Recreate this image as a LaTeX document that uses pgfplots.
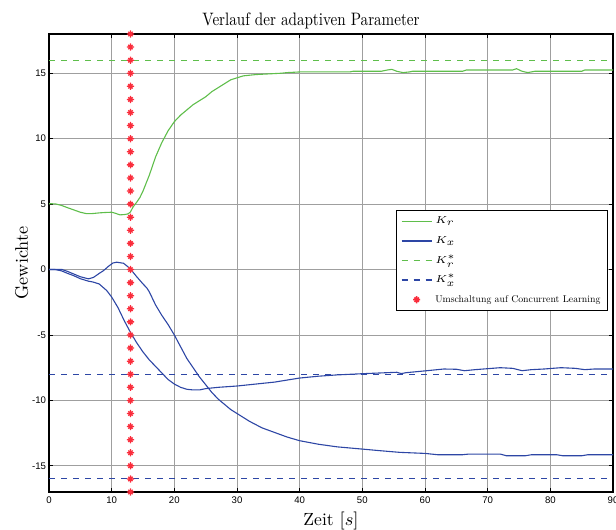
\documentclass[border=0pt]{standalone}
\usepackage{pgfplots}
\pgfplotsset{compat=1.18}
\usepackage{graphicx}
\usepackage{fontspec}
\setmainfont{lmroman10-regular.otf}[ItalicFont=lmroman10-italic.otf, BoldFont=lmroman10-bold.otf]
\newfontfamily\tickfont{Liberation Sans}
\definecolor{kgreen}{RGB}{95,190,75}
\definecolor{kblue}{RGB}{45,70,165}
\definecolor{kred}{RGB}{250,45,60}
\pgfdeclareplotmark{mstar}{%
  \pgfpathmoveto{\pgfqpoint{0pt}{\pgfplotmarksize}}\pgfpathlineto{\pgfqpoint{0pt}{-\pgfplotmarksize}}%
  \pgfpathmoveto{\pgfqpoint{\pgfplotmarksize}{0pt}}\pgfpathlineto{\pgfqpoint{-\pgfplotmarksize}{0pt}}%
  \pgfpathmoveto{\pgfqpoint{.6\pgfplotmarksize}{.6\pgfplotmarksize}}\pgfpathlineto{\pgfqpoint{-.6\pgfplotmarksize}{-.6\pgfplotmarksize}}%
  \pgfpathmoveto{\pgfqpoint{.6\pgfplotmarksize}{-.6\pgfplotmarksize}}\pgfpathlineto{\pgfqpoint{-.6\pgfplotmarksize}{.6\pgfplotmarksize}}%
  \pgfusepathqstroke}
\pgfplotsset{
  lineleg/.style={legend image code/.code={\draw[##1] (0cm,0cm) -- (0.53cm,0cm);}},
  markleg/.style={legend image code/.code={\draw[##1] plot coordinates {(0.265cm,0cm)};}},
}
\begin{document}
\begin{tikzpicture}
\begin{axis}[
  name=ax,
  scale only axis, width=282pt, height=229pt,
  xmin=0, xmax=90, ymin=-17, ymax=18,
  xtick={0,10,...,90}, ytick={-15,-10,-5,0,5,10,15},
  grid=major, major grid style={gray!75, line width=0.4pt},
  tick align=inside, tick style={black, line width=0.4pt}, major tick length=2pt,
  axis line style={black, line width=0.7pt},
  /pgf/number format/assume math mode=true,
  tick label style={font=\tickfont\fontsize{4.8}{5}\selectfont},
  xticklabel style={yshift=1pt}, yticklabel style={xshift=2pt},
  title={\scalebox{0.84}[1]{Verlauf der adaptiven Parameter}},
  title style={font=\fontsize{9}{10}\selectfont, at={(0.5,1)}, anchor=base, yshift=-2pt, xshift=-10pt},
  xlabel={Zeit $[s]$}, xlabel style={font=\fontsize{8.8}{10}\selectfont, yshift=3pt},
  ylabel={Gewichte}, ylabel style={font=\fontsize{9.1}{10}\selectfont, yshift=-5pt},
  legend style={at={(0.991,0.616)}, anchor=north east, draw=black, line width=0.6pt,
    font=\fontsize{4.9}{5.5}\selectfont, row sep=2pt, inner xsep=2pt, inner ysep=1.5pt,
    nodes={inner sep=1.4pt, text height=3.8pt, text depth=1.2pt}},
  legend cell align=left,
  legend image post style={line width=0.75pt},
  lineleg,
]
\addplot[kgreen, line width=0.55pt] coordinates {
(0,5.03) (1,5.02) (2,4.9) (3,4.72) (4,4.55) (5,4.38) (6,4.27) (7,4.28) (8,4.33) (9,4.36) (10,4.38) (10.6,4.3) (11.3,4.18) (12,4.2) (12.6,4.25) (13,4.4) (13.4,4.77) (14,5.15) (14.5,5.5) (15,6.0) (16,7.2) (17,8.6) (18,9.7) (19,10.6) (20,11.3) (21,11.8) (22,12.2) (23,12.6) (24,12.9) (25,13.2) (26,13.6) (27,13.9) (28,14.2) (29,14.5) (30,14.65) (31,14.8) (32,14.85) (33,14.9) (35,14.95) (37,15.0) (38,15.05) (40,15.1) (44,15.1) (48,15.1) (48.5,15.15) (53,15.15) (54,15.25) (54.7,15.3) (55.5,15.15) (56.5,15.05) (57.5,15.1) (58,15.15) (66,15.15) (66.6,15.25) (74,15.25) (74.6,15.35) (75.5,15.15) (76.4,15.05) (77.5,15.15) (85,15.15) (85.5,15.25) (90,15.25)
};
\addlegendentry{$K_r$}
\addplot[kblue, line width=0.55pt] coordinates {
(0,0) (1,0) (2.1,0) (3,-0.15) (3.9,-0.33) (5,-0.55) (6.3,-0.71) (7.1,-0.6) (8,-0.3) (8.7,-0.08) (9.5,0.25) (10.2,0.5) (10.8,0.56) (11.9,0.48) (12.5,0.25) (13.2,-0.08) (14,-0.55) (15,-1.1) (15.6,-1.4) (16,-1.7) (17,-2.7) (18,-3.5) (19,-4.2) (20,-5.0) (21,-5.9) (22,-6.8) (23,-7.5) (24,-8.2) (25,-8.8) (26,-9.4) (27,-9.9) (28,-10.3) (29,-10.7) (30,-11.0) (32,-11.6) (34,-12.1) (36,-12.45) (38,-12.8) (40,-13.08) (43,-13.35) (46,-13.55) (50,-13.72) (53,-13.85) (56,-13.97) (60,-14.05) (62,-14.15) (66,-14.15) (67,-14.1) (72,-14.1) (73,-14.23) (76,-14.23) (77,-14.15) (81,-14.15) (82,-14.23) (85,-14.23) (86,-14.15) (90,-14.15)
};
\addlegendentry{$K_x$}
\addplot[kgreen, dashed, line width=0.55pt] coordinates {(0,16) (90,16)};
\addlegendentry{$K_r^*$}
\addplot[kblue, dashed, line width=0.55pt] coordinates {(0,-8) (90,-8)};
\addlegendentry{$K_x^*$}
\addplot[only marks, mark=mstar, mark size=1.8pt, kred, line width=0.65pt, markleg] coordinates {
(13,-17) (13,-16) (13,-15) (13,-14) (13,-13) (13,-12) (13,-11) (13,-10) (13,-9) (13,-8) (13,-7) (13,-6) (13,-5) (13,-4) (13,-3) (13,-2) (13,-1) (13,0) (13,1) (13,2) (13,3) (13,4) (13,5) (13,6) (13,7) (13,8) (13,9) (13,10) (13,11) (13,12) (13,13) (13,14) (13,15) (13,16) (13,17) (13,18)
};
\addlegendentry{Umschaltung auf Concurrent Learning}
\addplot[kblue, line width=0.55pt, forget plot] coordinates {
(0,0) (1,0) (2,-0.1) (3,-0.3) (3.9,-0.46) (5,-0.7) (6.3,-0.89) (7,-0.95) (8,-1.1) (9.2,-1.6) (10,-2.1) (11,-2.9) (12,-3.9) (13,-4.8) (14,-5.6) (15,-6.3) (16,-6.9) (17,-7.4) (18,-7.9) (19,-8.4) (20,-8.75) (21,-9.0) (22,-9.15) (23,-9.2) (24,-9.2) (25,-9.1) (27,-9.0) (30,-8.9) (33,-8.75) (36,-8.6) (40,-8.29) (43,-8.15) (46,-8.05) (50,-7.96) (53,-7.9) (55.5,-7.85) (56.2,-7.95) (57,-7.88) (60.3,-7.73) (63,-7.6) (65,-7.62) (66.3,-7.73) (68,-7.65) (72,-7.5) (74,-7.55) (75.5,-7.73) (77,-7.65) (79,-7.6) (81.7,-7.5) (84,-7.55) (85.5,-7.65) (87,-7.6) (90,-7.6)
};
\addplot[kblue, dashed, line width=0.55pt, forget plot] coordinates {(0,-16) (90,-16)};
\end{axis}
\pgfresetboundingbox
\path ([shift={(-24.5pt,-18.5pt)}]ax.south west) rectangle ([shift={(1.5pt,17pt)}]ax.north east);
\end{tikzpicture}
\end{document}
